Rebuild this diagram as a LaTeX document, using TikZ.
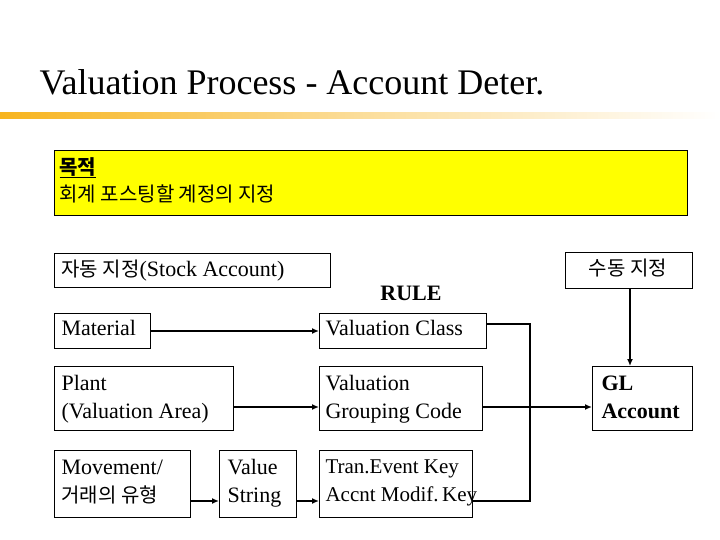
\documentclass[tikz,border=0pt]{standalone}
\usepackage{fontspec}
\usetikzlibrary{arrows.meta}
\setmainfont{Liberation Serif}
\newfontfamily\kr{Noto Sans CJK KR}
\definecolor{ylw}{RGB}{255,255,0}
\definecolor{org}{RGB}{247,180,30}
\begin{document}
\begin{tikzpicture}[x=1pt,y=-1pt,
 bx/.style={draw,line width=0.9pt,inner sep=0pt},
 lbl/.style={anchor=north west,font=\fontsize{22}{28}\selectfont,align=left},
 arr/.style={line width=2pt,-{Latex[length=7pt,width=6pt]}}]
\useasboundingbox (0,0) rectangle (720,540);
\node[anchor=west,font=\fontsize{36}{40}\selectfont] (title) at (36,82) {Valuation Process - Account Deter.};
\shade[left color=org,right color=white,middle color=org!45] (0,113) rectangle (720,119);
\draw[fill=ylw,line width=0.9pt] (54,150) rectangle (687,215);
\node[lbl,font=\kr\fontsize{20}{27}\selectfont] (goal) at (56,154) {\underline{\bfseries 목적}\\회계 포스팅할 계정의 지정};
\draw[bx] (54,253) rectangle (330,287);
\node[anchor=west,font=\fontsize{22}{24}\selectfont] (auto) at (58,271) {{\kr\fontsize{20}{24}\selectfont 자동 지정}(Stock Account)};
\draw[bx] (565,252) rectangle (692,288);
\node[font=\kr\fontsize{20}{24}\selectfont] (manual) at (628,268) {수동 지정};
\node[font=\bfseries\fontsize{22}{24}\selectfont] (rule) at (411,293) {RULE};
\node[bx,minimum width=96,minimum height=35,anchor=north west] (mat) at (54,313) {};
\node[lbl] at (58,317) {Material};
\node[bx,minimum width=167,minimum height=35,anchor=north west] (vc) at (319,313) {};
\node[lbl] at (322,317) {Valuation Class};
\node[bx,minimum width=179,minimum height=64,anchor=north west] (pl) at (54,366) {};
\node[lbl] at (58,372) {Plant\\(Valuation Area)};
\node[bx,minimum width=163,minimum height=64,anchor=north west] (vg) at (319,366) {};
\node[lbl] at (322,372) {Valuation\\Grouping Code};
\node[bx,minimum width=136,minimum height=67,anchor=north west] (mv) at (54,450) {};
\node[lbl] at (58,456) {Movement/\\{\kr\fontsize{20}{28}\selectfont 거래의 유형}};
\node[bx,minimum width=77,minimum height=67,anchor=north west] (vs) at (219,450) {};
\node[lbl] at (224,456) {Value\\String};
\node[bx,minimum width=153,minimum height=67,anchor=north west] (te) at (319,450) {};
\node[lbl,font=\fontsize{21}{28}\selectfont] at (322,456) {Tran.Event Key\\Accnt Modif.\,Key};
\node[bx,minimum width=100,minimum height=64,anchor=north west] (gl) at (592,366) {};
\node[lbl,font=\bfseries\fontsize{22}{28}\selectfont] at (598,372) {GL\\Account};
\coordinate (j) at (530,407);
\draw[arr] (mat.east |- 0,331) -- (vc.west |- 0,331);
\draw[arr] (pl.east |- 0,407) -- (vg.west |- 0,407);
\draw[arr] (mv.east |- 0,501) -- (vs.west |- 0,501);
\draw[arr] (vs.east |- 0,501) -- (te.west |- 0,501);
\draw[line width=1.1pt] (vc.east |- 0,324) -- (530,324) -- (530,501) -- (te.east |- 0,501);
\draw[line width=1.1pt] (vg.east |- 0,407) -- (j);
\draw[arr] (j) -- (gl.west |- 0,407);
\draw[arr] (630,288) -- (gl.north -| 630,0);
\end{tikzpicture}
\end{document}
